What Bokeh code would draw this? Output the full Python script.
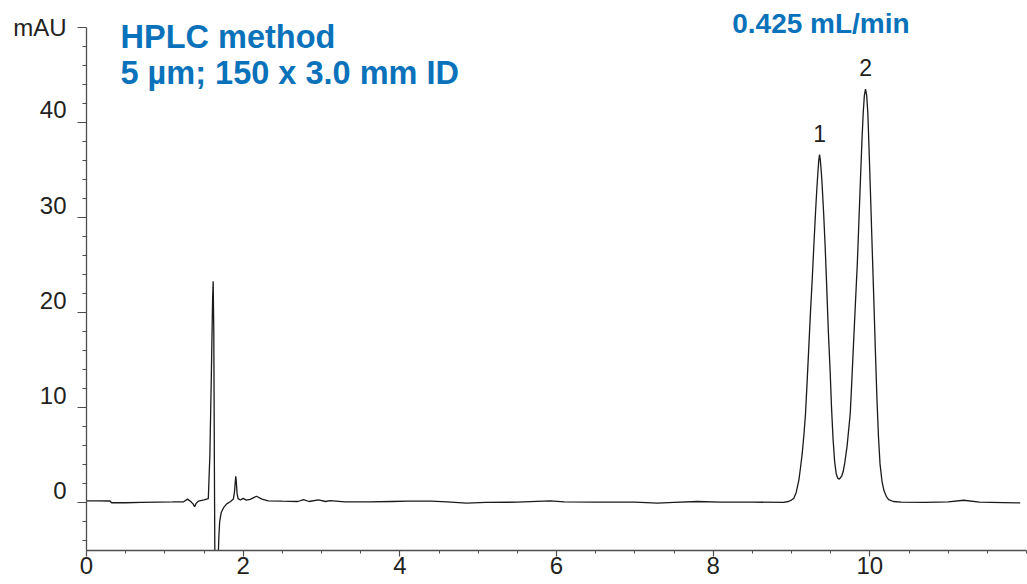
from bokeh.plotting import figure
from bokeh.models import FixedTicker, Label, Range1d, ColumnDataSource
from bokeh.embed import file_html
from bokeh.resources import INLINE

# ---- chromatogram trace (retention time in min, signal in mAU)
rt = [0.00, 0.15, 0.30, 0.32, 0.50, 0.70, 0.90, 1.10, 1.24, 1.29, 1.33, 1.36, 1.38, 1.40, 1.43,
      1.50, 1.555, 1.575, 1.595, 1.610, 1.617, 1.625, 1.632, 1.640, 1.655, 1.670, 1.680, 1.690,
      1.700, 1.720, 1.750, 1.790, 1.840, 1.875, 1.890, 1.900, 1.906, 1.912, 1.922, 1.935, 1.965,
      2.00, 2.04, 2.09, 2.17, 2.24, 2.32, 2.50, 2.70, 2.77, 2.84, 2.96, 3.05, 3.11, 3.30, 3.60,
      3.90, 4.10, 4.40, 4.60, 4.85, 5.10, 5.50, 5.92, 6.10, 6.50, 7.00, 7.29, 7.50, 7.80, 8.10,
      8.50, 8.90, 8.96, 9.00, 9.03, 9.06, 9.094, 9.115, 9.137, 9.16, 9.179, 9.20, 9.221, 9.242,
      9.264, 9.285, 9.306, 9.322, 9.336, 9.348, 9.358, 9.368, 9.38, 9.39, 9.41, 9.43, 9.45, 9.47,
      9.495, 9.51, 9.53, 9.55, 9.57, 9.59, 9.61, 9.64, 9.66, 9.68, 9.71, 9.75, 9.77, 9.79, 9.815,
      9.84, 9.86, 9.88, 9.90, 9.915, 9.93, 9.945, 9.96, 9.975, 9.99, 10.01, 10.03, 10.05, 10.07,
      10.09, 10.11, 10.13, 10.155, 10.18, 10.21, 10.24, 10.30, 10.40, 10.70, 11.00, 11.20, 11.40,
      11.70, 11.92]
mau = [0.22, 0.22, 0.20, 0.02, 0.02, 0.05, 0.08, 0.10, 0.12, 0.40, 0.15, -0.10, -0.40, -0.05, 0.20,
       0.32, 0.45, 5.0, 14.0, 21.5, 23.3, 18.0, 5.0, -8.0, -16.0, -12.0, -6.0, -3.5,
       -2.0, -1.0, -0.5, -0.1, 0.15, 0.40, 1.2, 2.3, 2.8, 2.3, 1.0, 0.45, 0.30,
       0.48, 0.30, 0.38, 0.70, 0.40, 0.22, 0.18, 0.15, 0.35, 0.15, 0.32, 0.15, 0.25, 0.12, 0.10,
       0.15, 0.18, 0.18, 0.10, -0.02, 0.05, 0.08, 0.22, 0.10, 0.08, 0.08, -0.03, 0.06, 0.15, 0.08,
       0.08, 0.06, 0.15, 0.30, 0.50, 1.1, 2.4, 3.7, 5.2, 7.3, 9.4, 12.8, 16.4, 20.0,
       23.4, 27.0, 30.4, 32.8, 34.6, 36.0, 36.6, 36.0, 34.8, 33.6, 30.5, 26.9, 22.6, 18.1,
       13.5, 10.2, 6.8, 4.4, 3.1, 2.6, 2.5, 2.8, 3.3, 4.2, 6.0, 9.4, 12.8, 16.4, 20.8,
       25.1, 29.5, 33.9, 38.2, 40.9, 42.8, 43.5, 42.8, 40.9, 37.2, 32.1, 26.8, 21.6, 16.2,
       11.1, 7.0, 4.1, 2.3, 1.3, 0.7, 0.35, 0.15, 0.08, 0.06, 0.10, 0.28, 0.08,
       0.04, 0.00]

# ---- axes
x_ticks = [0, 2, 4, 6, 8, 10]
x_minor_ticks = [0.5, 1, 1.5, 2.5, 3, 3.5, 4.5, 5, 5.5, 6.5, 7, 7.5, 8.5, 9, 9.5, 10.5, 11, 11.5, 12]
y_ticks = [0, 10, 20, 30, 40, 50]
y_tick_labels = ["0", "10", "20", "30", "40", "mAU"]
y_minor_ticks = [-4, -2, 2, 4, 6, 8, 12, 14, 16, 18, 22, 24, 26, 28, 32, 34, 36, 38, 42, 44, 46, 48]

# ---- peak annotations
peak_ids = ["1", "2"]
peak_rt = [9.358, 9.945]
peak_height = [36.6, 43.5]

# ---- header texts
title_lines = ["HPLC method", "5 µm; 150 x 3.0 mm ID"]
flow_text = "0.425 mL/min"

BLUE = "#0a72ba"
INK = "#231f20"
AXIS = "#4d4d4d"
FONT = "Liberation Sans"

# y axis drawn from -5 to 50; the space above it holds the header texts
p = figure(width=1027, height=584, x_range=Range1d(0, 12), y_range=Range1d(-5, 52.8),
           output_backend="svg", toolbar_location=None,
           min_border_left=86, min_border_right=1, min_border_top=0, min_border_bottom=34)
p.grid.visible = False
p.outline_line_color = None

src = ColumnDataSource(dict(rt=rt, mau=mau))
p.line("rt", "mau", source=src, line_color="#1a1a1a", line_width=1.3)

xa = p.xaxis[0]
xa.ticker = FixedTicker(ticks=x_ticks, minor_ticks=x_minor_ticks)
xa.axis_line_color = AXIS
xa.axis_line_width = 1.3
xa.major_tick_line_color = AXIS
xa.minor_tick_line_color = AXIS
xa.major_tick_line_width = 1.2
xa.minor_tick_line_width = 1.0
xa.major_tick_in = 0
xa.major_tick_out = 6
xa.minor_tick_in = 0
xa.minor_tick_out = 3
xa.major_label_text_font = FONT
xa.major_label_text_font_size = "24px"
xa.major_label_text_color = INK
xa.major_label_standoff = 0

ya = p.yaxis[0]
ya.bounds = (-5, 50)
ya.ticker = FixedTicker(ticks=y_ticks, minor_ticks=y_minor_ticks)
ya.axis_line_color = AXIS
ya.axis_line_width = 1.3
ya.major_tick_line_color = AXIS
ya.minor_tick_line_color = AXIS
ya.major_tick_line_width = 1.2
ya.minor_tick_line_width = 1.0
ya.major_tick_in = 0
ya.major_tick_out = 9
ya.minor_tick_in = 0
ya.minor_tick_out = 4
ya.major_label_text_font = FONT
ya.major_label_text_font_size = "24px"
ya.major_label_text_color = INK
ya.major_label_text_line_height = 0.92
ya.major_label_standoff = 11
# numbers sit a half line above their ticks (as in the original); the unit label stays at its tick
ya.major_label_overrides = {t: (lbl if lbl == "mAU" else lbl + "\n")
                            for t, lbl in zip(y_ticks, y_tick_labels)}

for pid, x, h in zip(peak_ids, peak_rt, peak_height):
    p.add_layout(Label(x=x, y=h, text=pid, text_align="center", text_baseline="bottom",
                       y_offset=13, text_font=FONT, text_font_size="23px", text_color=INK))

p.add_layout(Label(x=0.434, y=48.99, text=title_lines[0], text_align="left",
                   text_baseline="alphabetic", text_font=FONT, text_font_style="bold",
                   text_font_size="32.5px", text_color=BLUE))
p.add_layout(Label(x=0.434, y=45.2, text=title_lines[1], text_align="left",
                   text_baseline="alphabetic", text_font=FONT, text_font_style="bold",
                   text_font_size="32.5px", text_color=BLUE))
p.add_layout(Label(x=8.243, y=50.35, text=flow_text, text_align="left",
                   text_baseline="alphabetic", text_font=FONT, text_font_style="bold",
                   text_font_size="28px", text_color=BLUE))

open("out.html", "w").write(file_html(p, INLINE))
